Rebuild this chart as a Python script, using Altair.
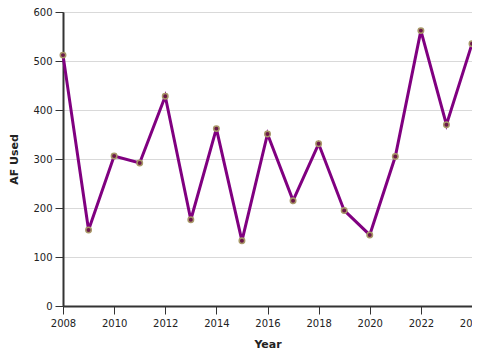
import altair as alt
import pandas as pd

years = [2008, 2009, 2010, 2011, 2012, 2013, 2014, 2015, 2016, 2017, 2018, 2019, 2020, 2021, 2022, 2023, 2024]
af_used = [512, 155, 306, 292, 428, 176, 362, 133, 351, 215, 331, 195, 145, 305, 562, 370, 535]
x_ticks = [2008, 2010, 2012, 2014, 2016, 2018, 2020, 2022, 2024]
y_ticks = [0, 100, 200, 300, 400, 500, 600]

df = pd.DataFrame({"Year": years, "AF Used": af_used})

base = alt.Chart(df).encode(
    x=alt.X("Year:Q", scale=alt.Scale(domain=[2008, 2024], nice=False, zero=False),
            axis=alt.Axis(format="d", values=x_ticks, grid=False, labelFlush=False,
                          labelOverlap=False, labelPadding=4,
                          title="Year", titlePadding=10)),
    y=alt.Y("AF Used:Q", scale=alt.Scale(domain=[0, 600], nice=False),
            axis=alt.Axis(values=y_ticks, title="AF Used", labelPadding=3,
                          titlePadding=13)),
)

line = base.mark_line(color="#800080", strokeWidth=3)
points = base.mark_circle(size=30, color="#6a1848", opacity=1, stroke="#a89868", strokeWidth=1.5)

chart = (line + points).properties(
    width=409, height=294,
    autosize=alt.AutoSizeParams(type="none"),
    padding={"left": 55, "top": 4, "right": 0, "bottom": 46},
).configure(
    font="DejaVu Sans",
).configure_view(
    stroke="#333333", strokeWidth=1,
).configure_axis(
    domainColor="#333333", domainWidth=2, tickColor="#333333", tickSize=8,
    labelFontSize=10, labelColor="#222222", titleFontSize=11, titleFontWeight="bold",
    titleColor="#222222", gridColor="#d9d9d9",
)

chart.save("out.html", embed_options={"renderer": "svg", "actions": False})
